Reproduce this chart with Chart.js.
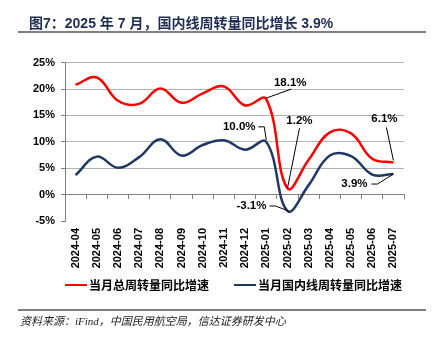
<!DOCTYPE html>
<html><head><meta charset="utf-8">
<script src="https://cdn.jsdelivr.net/npm/chart.js@4"></script>
<style>
html,body{margin:0;padding:0;background:#fff;width:433px;height:347px;overflow:hidden;}
#wrap{position:absolute;left:0;top:0;width:433px;height:347px;}
#title{position:absolute;left:29px;top:14px;font:bold 14px "Liberation Sans","Noto Sans CJK SC",sans-serif;color:#1F2D55;white-space:nowrap;line-height:18px;}
.rule{position:absolute;left:18px;width:408px;height:2px;background:#7F7F7F;}
#legend{position:absolute;top:277px;left:65px;display:flex;align-items:center;font:bold 12px "Noto Sans CJK SC",sans-serif;color:#000;white-space:nowrap;line-height:16px;}
#legend .item{display:flex;align-items:center;margin-right:25px;}
#legend .sw{display:inline-block;width:22px;height:2.5px;margin-right:2px;}
#source{position:absolute;left:20px;top:314px;font:italic 11px "Liberation Serif","Noto Sans CJK SC",serif;color:#222;white-space:nowrap;line-height:15px;}
</style></head>
<body>
<div id="wrap"><canvas id="c" width="433" height="347"></canvas></div>
<div id="title">图7：2025 年 7 月，国内线周转量同比增长 3.9%</div>
<div class="rule" style="top:31px"></div>
<div id="legend"></div>
<div class="rule" style="top:309px"></div>
<div id="source">资料来源：iFind，中国民用航空局，信达证券研发中心</div>
<script>
const categories = ['2024-04','2024-05','2024-06','2024-07','2024-08','2024-09','2024-10','2024-11','2024-12','2025-01','2025-02','2025-03','2025-04','2025-05','2025-06','2025-07'];
const totalGrowth = [20.8, 22.2, 17.8, 17.2, 20.1, 17.4, 19.2, 20.5, 16.9, 18.1, 1.2, 6.6, 11.8, 11.6, 6.8, 6.1];
const domesticGrowth = [3.7, 7.2, 5.1, 7.1, 10.5, 7.4, 9.4, 10.3, 8.5, 10.0, -3.1, 1.8, 7.4, 7.3, 3.8, 3.9];
const seriesNames = ['当月总周转量同比增速', '当月国内线周转量同比增速'];
const yTicks = [-5, 0, 5, 10, 15, 20, 25];

const colors = ['#FF0000', '#1F3864'];

// annotation placement (offsets relative to the data point)
const annotations = [
  {series:0, index:9,  label:[24,-16], leader:[[0,-1],[25,-10]]},
  {series:0, index:10, label:[12,-67], leader:[[0,0],[12,-60]]},
  {series:1, index:9,  label:[-27,-15], leader:[[0,-2],[-2,-15],[-8,-15]]},
  {series:1, index:10, label:[-36,-5], leader:[[-18,-5],[-12,-5],[1,0]]},
  {series:0, index:15, label:[-9,-44], leader:[[-7,-35],[0,-2]]},
  {series:1, index:15, label:[-39,10], leader:[[-22,10],[-16,10],[0,0]]}
];
const seriesData = [totalGrowth, domesticGrowth];

const annotPlugin = {
  id: 'annot',
  afterDatasetsDraw(chart) {
    const ctx = chart.ctx;
    ctx.save();
    annotations.forEach(a => {
      const pt = chart.getDatasetMeta(a.series).data[a.index];
      const v = seriesData[a.series][a.index];
      ctx.strokeStyle = '#000';
      ctx.lineWidth = 1;
      ctx.beginPath();
      a.leader.forEach((p, i) => {
        if (i === 0) ctx.moveTo(pt.x + p[0], pt.y + p[1]);
        else ctx.lineTo(pt.x + p[0], pt.y + p[1]);
      });
      ctx.stroke();
      ctx.fillStyle = '#000';
      ctx.font = 'bold 11.5px "Liberation Sans", Arial, sans-serif';
      ctx.textAlign = 'center';
      ctx.textBaseline = 'middle';
      ctx.fillText(v.toFixed(1) + '%', pt.x + a.label[0], pt.y + a.label[1]);
    });
    ctx.restore();
  }
};

const legendEl = document.getElementById('legend');
seriesNames.forEach((n, i) => {
  const it = document.createElement('span');
  it.className = 'item';
  it.innerHTML = '<span class="sw" style="background:' + colors[i] + '"></span><span>' + n + '</span>';
  legendEl.appendChild(it);
});

new Chart(document.getElementById('c'), {
  type: 'line',
  data: {
    labels: categories,
    datasets: seriesData.map((d, i) => ({
      label: seriesNames[i],
      data: d,
      borderColor: colors[i],
      backgroundColor: colors[i],
      borderWidth: 2.5,
      pointRadius: 0,
      tension: 0.4,
      fill: false,
      xAxisID: 'x'
    }))
  },
  options: {
    responsive: false,
    animation: false,
    layout: {padding: {left: 0, right: 29, top: 62.7, bottom: 0}},
    plugins: {legend: {display: false}, tooltip: {enabled: false}},
    scales: {
      x: {
        type: 'category',
        position: 'bottom',
        offset: true,
        grid: {display: false, drawTicks: false},
        border: {display: false},
        ticks: {
          minRotation: 90, maxRotation: 90, autoSkip: false, padding: 7,
          color: '#000',
          font: {family: '"Liberation Sans", Arial, sans-serif', size: 11, weight: 'bold'}
        },
        afterFit(s) { s.height = 347 - 221; }
      },
      x2: {
        type: 'category',
        position: {y: 0},
        offset: true,
        grid: {offset: true, drawOnChartArea: false, drawTicks: true, tickLength: 4, color: '#808080', tickColor: '#808080'},
        border: {display: true, color: '#808080', width: 1},
        ticks: {display: false}
      },
      y: {
        min: -5, max: 25,
        afterBuildTicks(s) { s.ticks = yTicks.map(v => ({value: v})); },
        grid: {
          color: c => (c.tick && (c.tick.value === -5 || c.tick.value === 0)) ? 'rgba(0,0,0,0)' : '#B3B3B3',
          tickColor: '#808080', tickLength: 4, lineWidth: 1
        },
        border: {display: true, color: '#808080', width: 1},
        ticks: {
          padding: 6, color: '#000',
          font: {family: '"Liberation Sans", Arial, sans-serif', size: 11, weight: 'bold'},
          callback: v => v + '%'
        },
        afterFit(s) { s.width = 65; }
      }
    }
  },
  plugins: [annotPlugin]
});
</script>
</body></html>
